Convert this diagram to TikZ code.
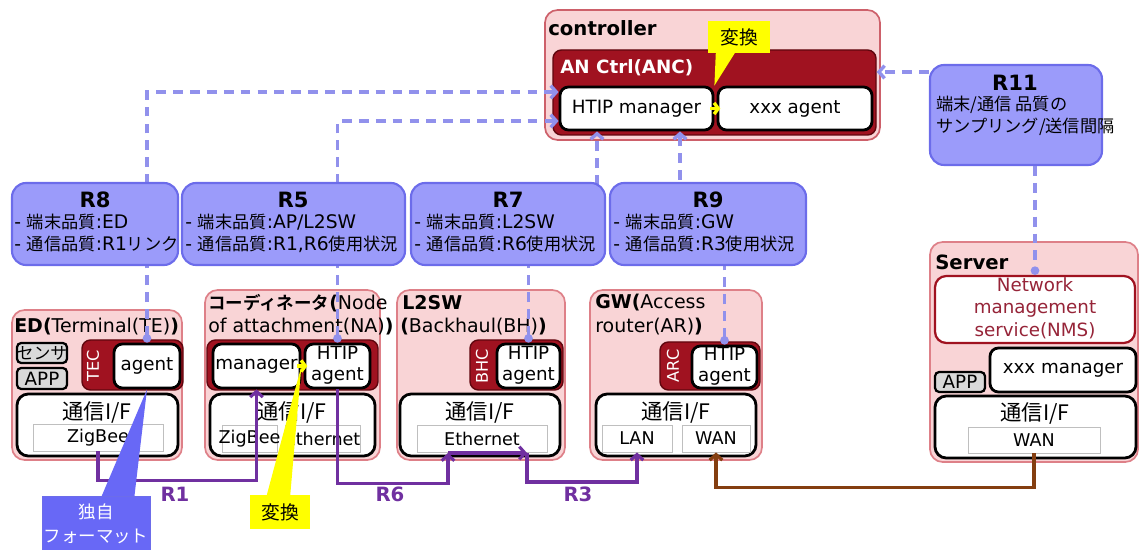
\documentclass[tikz,border=0pt]{standalone}
\usepackage{fontspec}
\setmainfont{DejaVu Sans}
\newfontfamily\jpfont{Noto Sans CJK JP}[Scale=0.92,BoldFont={Noto Sans CJK JP Bold}]
\newcommand{\jtxt}[1]{{\jpfont #1}}
\newcommand{\cellstack}[1]{\begin{tabular}{@{}c@{}}#1\end{tabular}}
\usepackage{tikz}
\usetikzlibrary{fit,arrows.meta}
\definecolor{devpink}{RGB}{249,212,214}
\definecolor{devedge}{RGB}{222,128,136}
\definecolor{ctrledge}{RGB}{205,96,106}
\definecolor{ancred}{RGB}{160,18,32}
\definecolor{ancedge}{RGB}{96,6,14}
\definecolor{reqblue}{RGB}{155,155,250}
\definecolor{reqedge}{RGB}{108,108,234}
\definecolor{dashblue}{RGB}{145,145,236}
\definecolor{linkpurple}{RGB}{112,48,160}
\definecolor{wanbrown}{RGB}{132,62,16}
\definecolor{fmtblue}{RGB}{104,104,246}
\definecolor{appgray}{RGB}{217,217,217}
\definecolor{nmsred}{RGB}{150,36,56}
\definecolor{convyellow}{RGB}{255,255,0}

\begin{document}
\begin{tikzpicture}[x=0.025cm, y=-0.025cm,
    every node/.style={font=\fontsize{13}{16}\selectfont},
    dev/.style={draw=devedge, fill=devpink, line width=1.2pt, rounded corners=9pt, inner sep=0pt},
    anc/.style={draw=ancedge, fill=ancred, line width=1pt, rounded corners=6pt, inner sep=0pt},
    intxt/.style={inner sep=0pt, font=\fontsize{13}{15}\selectfont},
    mod/.style={draw=black, fill=white, line width=2pt, rounded corners=6pt, inner sep=0pt, label={[intxt]center:{#1}}},
    ifbox/.style={draw=black, fill=white, line width=2pt, rounded corners=8pt, inner sep=0pt},
    iflbl/.style={inner sep=0pt, font=\jpfont\fontsize{16.5}{19}\selectfont},
    sublbl/.style={inner sep=0pt, font=\fontsize{12.5}{15}\selectfont},
    subif/.style={draw=black!25, fill=white, line width=0.6pt, inner sep=0pt, label={[sublbl]center:#1}},
    appbox/.style={draw=black, fill=appgray, line width=1.6pt, rounded corners=3pt, inner sep=0pt, label={[intxt]center:{#1}}},
    nmsbox/.style={draw=ancred, fill=white, line width=1.6pt, rounded corners=8pt, inner sep=0pt, label={[intxt, text=nmsred, font=\fontsize{13}{16}\selectfont]center:{#1}}},
    req/.style={draw=reqedge, fill=reqblue, line width=1.5pt, rounded corners=10pt, inner sep=0pt},
    ttl/.style={anchor=west, inner sep=0pt, font=\fontsize{13.5}{16}\selectfont},
    reqttl/.style={inner sep=0pt, font=\bfseries\fontsize{15}{18}\selectfont},
    reqtxt/.style={anchor=west, inner sep=0pt, font=\fontsize{13.3}{16}\selectfont},
    side/.style={rotate=90, text=white, inner sep=0pt, font=\fontsize{11.5}{14}\selectfont},
    query/.style={draw=dashblue, line width=2.4pt, dash pattern=on 7pt off 5pt, -{Straight Barb[length=4pt, width=9pt]}},
    qdot/.style={query, {Circle[length=6pt]}-{Straight Barb[length=4pt, width=9pt]}},
    link/.style={draw=linkpurple, line width=2.2pt, -{Straight Barb[length=4pt, width=9pt]}},
    linklbl/.style={text=linkpurple, inner sep=0pt, font=\bfseries\fontsize{14}{16}\selectfont},
    conv/.style={draw=convyellow, line width=2.4pt, -{Straight Barb[length=3pt, width=8pt]}},
    convnote/.style={fill=convyellow, inner sep=0pt, label={[intxt, font=\jpfont\fontsize{14.5}{16}\selectfont]center:{#1}}},
    fmtnote/.style={fill=fmtblue, draw=reqedge, inner sep=0pt, label={[intxt, text=white, font=\jpfont\fontsize{13.5}{17}\selectfont]center:{#1}}}
]
    \useasboundingbox (0,0) rectangle (1140,550);

    \node[dev, draw=ctrledge, fit={(545,10) (880,140)}] (ctrl) {};
    \node[ttl, font=\bfseries\fontsize{14}{16}\selectfont] at (548,28) {controller};
    \node[anc, fit={(553,50) (876,135)}] (anc) {};
    \node[ttl, text=white, font=\bfseries\fontsize{13}{16}\selectfont] at (560,68) {AN Ctrl(ANC)};
    \node[mod=HTIP manager, fit={(560,87) (713,130)}] (mgr) {};
    \node[mod=xxx agent, fit={(718,87) (872,130)}] (xagent) {};

    \node[dev, fit={(12,310) (182,460)}] (ed) {};
    \node[ttl] at (14,327) {\textbf{ED(}Terminal(TE)\textbf{)}};
    \node[appbox=\jtxt{センサ}, fit={(17,343) (67,363)}] (edsensor) {};
    \node[appbox=APP, fit={(17,368) (67,389)}] (edapp) {};
    \node[anc, fit={(82,340) (183,390)}] (tec) {};
    \node[side] at (93,366) {TEC};
    \node[mod=agent, fit={(114,344) (180,388)}] (edagent) {};
    \node[ifbox, fit={(17,394) (178,456)}] (edif) {};
    \node[iflbl] at (97,412) {通信I/F};
    \node[subif=ZigBee, fit={(33,424) (163,451)}] (edzb) {};

    \node[dev, fit={(205,290) (380,460)}] (na) {};
    \node[ttl] at (208,303) {{\bfseries\jtxt{コーディネータ}(}Node};
    \node[ttl] at (208,327) {of attachment(NA)\textbf{)}};
    \node[anc, fit={(207,340) (378,390)}] (nactl) {};
    \node[mod=manager, fit={(213,344) (300,388)}] (namgr) {};
    \node[mod=\cellstack{HTIP\\agent}, fit={(305,344) (370,388)}] (naagent) {};
    \node[ifbox, fit={(210,394) (375,456)}] (naif) {};
    \node[iflbl] at (292,412) {通信I/F};
    \node[subif=ZigBee, fit={(222,425) (277,452)}] (nazb) {};
    \node[subif=Ethernet, fit={(285,425) (360,452)}] (naeth) {};

    \node[dev, fit={(397,290) (565,460)}] (l2) {};
    \node[ttl] at (402,303) {\textbf{L2SW}};
    \node[ttl] at (400,327) {\textbf{(}Backhaul(BH)\textbf{)}};
    \node[anc, fit={(470,340) (563,390)}] (bhc) {};
    \node[side] at (482,366) {BHC};
    \node[mod=\cellstack{HTIP\\agent}, fit={(497,344) (560,388)}] (bhagent) {};
    \node[ifbox, fit={(400,394) (560,456)}] (l2if) {};
    \node[iflbl] at (480,412) {通信I/F};
    \node[subif=Ethernet, fit={(417,425) (547,452)}] (bheth) {};

    \node[dev, fit={(590,290) (762,460)}] (gw) {};
    \node[ttl] at (595,303) {\textbf{GW(}Access};
    \node[ttl] at (595,327) {router(AR)\textbf{)}};
    \node[anc, fit={(660,342) (760,390)}] (arc) {};
    \node[side] at (673,366) {ARC};
    \node[mod=\cellstack{HTIP\\agent}, fit={(692,346) (757,388)}] (gwagent) {};
    \node[ifbox, fit={(596,394) (756,456)}] (gwif) {};
    \node[iflbl] at (676,412) {通信I/F};
    \node[subif=LAN, fit={(602,425) (672,452)}] (gwlan) {};
    \node[subif=WAN, fit={(682,425) (750,452)}] (gwwan) {};

    \node[dev, fit={(930,242) (1138,462)}] (srv) {};
    \node[ttl, font=\bfseries\fontsize{14}{16}\selectfont] at (935,262) {Server};
    \node[nmsbox=\cellstack{Network\\management\\service(NMS)}, fit={(935,276) (1135,343)}] (nms) {};
    \node[appbox=APP, fit={(935,372) (985,392)}] (srvapp) {};
    \node[mod=xxx manager, fit={(990,348) (1136,392)}] (srvmgr) {};
    \node[ifbox, fit={(935,396) (1136,458)}] (srvif) {};
    \node[iflbl] at (1035,413) {通信I/F};
    \node[subif=WAN, fit={(968,427) (1100,453)}] (srvwan) {};

    \coordinate (q8) at (148,92);
    \coordinate (q5) at (337,121);
    \coordinate (q7) at (597,222);
    \coordinate (q9) at (680,222);
    \draw[qdot] (edagent.north) -- (edagent.north |- q8) -- (mgr.west |- q8);
    \draw[qdot] (naagent.north) -- (naagent.north |- q5) -- (mgr.west |- q5);
    \draw[qdot] (bhagent.north) |- (q7) -- (q7 |- mgr.south);
    \draw[qdot] (gwagent.north) |- (q9) -- (q9 |- mgr.south);

    \node[req, fit={(12,183) (178,265)}] (r8) {};
    \node[reqttl] at (95,200) {R8};
    \node[reqtxt] at (14,222) {- \jtxt{端末品質}:ED};
    \node[reqtxt] at (14,244) {- \jtxt{通信品質}:R1\jtxt{リンク}};
    \node[req, fit={(182,183) (405,265)}] (r5) {};
    \node[reqttl] at (293,200) {R5};
    \node[reqtxt] at (185,222) {- \jtxt{端末品質}:AP/L2SW};
    \node[reqtxt] at (185,244) {- \jtxt{通信品質}:R1,R6\jtxt{使用状況}};
    \node[req, fit={(411,183) (605,265)}] (r7) {};
    \node[reqttl] at (508,200) {R7};
    \node[reqtxt] at (414,222) {- \jtxt{端末品質}:L2SW};
    \node[reqtxt] at (414,244) {- \jtxt{通信品質}:R6\jtxt{使用状況}};
    \node[req, fit={(610,183) (806,265)}] (r9) {};
    \node[reqttl] at (708,200) {R9};
    \node[reqtxt] at (613,222) {- \jtxt{端末品質}:GW};
    \node[reqtxt] at (613,244) {- \jtxt{通信品質}:R3\jtxt{使用状況}};
    \node[req, fit={(930,65) (1102,165)}] (r11) {};
    \node[reqttl] at (1015,83) {R11};
    \node[reqtxt] at (936,105) {\jtxt{端末/通信 品質の}};
    \node[reqtxt] at (936,127) {\jtxt{サンプリング/送信間隔}};

    \coordinate (q11) at (905,72);
    \draw[query] (r11.west |- q11) -- (anc.east |- q11);
    \draw[query, -{Circle[length=6pt]}] (r11.south -| nms.north) -- (nms.north);

    \coordinate (bhin) at (448,453);
    \coordinate (bhout) at (527,453);
    \draw[link] (edzb.south) -- ++(0,29) -| (namgr.south);
    \draw[link] (naagent.south) -- ++(0,94) -| (bhin);
    \draw[link] (bhin) -- (bhout);
    \draw[link] (bhout) -- ++(0,29) -| (gwlan.south);
    \draw[link, draw=wanbrown] (srvwan.south) -- ++(0,34) -| (gwwan.south);
    \node[linklbl] (lblr1) at (175,494) {R1};
    \node[linklbl] (lblr6) at (390,494) {R6};
    \node[linklbl] (lblr3) at (578,494) {R3};

    \draw[conv] (mgr.east) ++(-4,0) -- ++(10,0);
    \draw[conv] (namgr.east) ++(-4,0) -- ++(10,0);

    \fill[convyellow] (716,48) -- (mgr.north east) -- (738,48) -- cycle;
    \node[convnote=変換, fit={(708,21) (770,53)}] (convtop) {};
    \fill[convyellow] (266,498) -- (namgr.east) -- (290,498) -- cycle;
    \node[convnote=変換, fit={(250,495) (310,529)}] (convna) {};
    \fill[fmtblue] (100,500) -- (edagent.south) -- (134,500) -- cycle;
    \node[fmtnote=\cellstack{独自\\フォーマット}, fit={(42,496) (150,556)}] (fmt) {};
\end{tikzpicture}
\end{document}
